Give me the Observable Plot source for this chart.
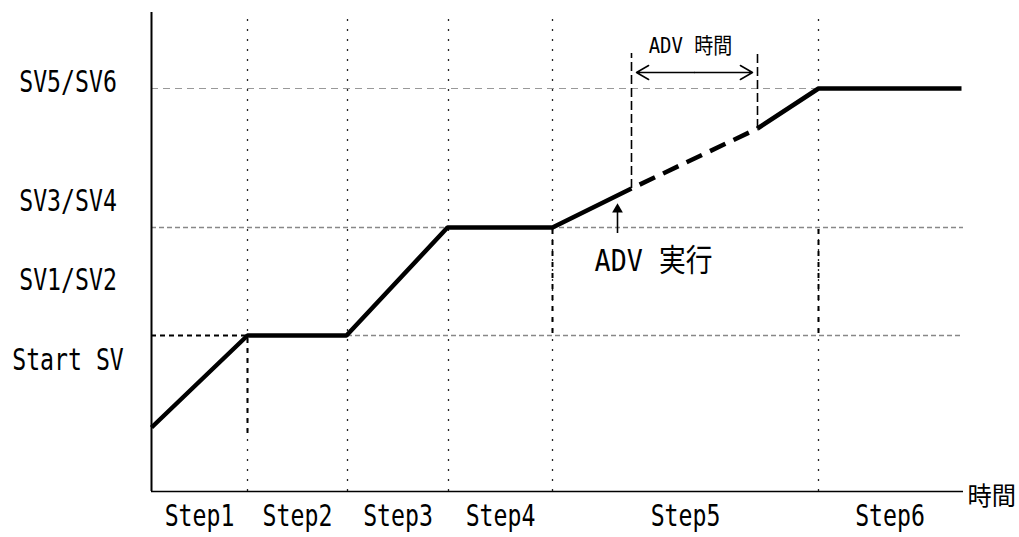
<!DOCTYPE html>
<html>
<head>
<meta charset="utf-8">
<script src="https://cdn.jsdelivr.net/npm/d3@7"></script>
<script src="https://cdn.jsdelivr.net/npm/@observablehq/plot@0.6"></script>
<style>
  html, body { margin: 0; padding: 0; background: #fff; }
  #chart svg { display: block; }
</style>
</head>
<body>
<div id="chart"></div>
<script>
// ---- data (time units on x, value units on y) ----
const profileTime  = [0, 96, 195, 296, 401, 480, 606, 667, 810];
const profileValue = [64, 156, 156, 264, 264, 303, 363, 403, 403];
const advStartIndex = 5;   // ADV executed here
const advEndIndex = 6;     // ADV time ends here

const stepNames  = ["Step1", "Step2", "Step3", "Step4", "Step5", "Step6"];
const stepBounds = [0, 96, 196, 297, 401, 667, 810];

const yTickLabels   = ["SV5/SV6", "SV3/SV4", "SV1/SV2", "Start SV"];
const yTickLabelPos = [409, 290, 211, 131];

const levelSV5 = 403;
const levelSV3 = 264;
const levelSV1 = 156;

const xAxisEnd = 812;
const yAxisTop = 479;
const gridTop = 474;
const advLabelTop = 438;
const advArrowLevel = 419;
const advTimeLabel = "ADV 時間";
const advTimeLabelPos = [539, 446];
const advExecLabel = "ADV 実行";
const advExecLabelPos = [502, 230];
const advExecArrow = [466, 258, 282];
const xAxisTitle = "時間";

// ---- derived tables ----
const pts = profileTime.map((t, i) => ({t, v: profileValue[i]}));
const solid1 = pts.slice(0, advStartIndex + 1);
const dashedPart = pts.slice(advStartIndex, advEndIndex + 1);
const solid2 = pts.slice(advEndIndex);
const steps = stepNames.map((name, i) => ({name, t: (stepBounds[i] + stepBounds[i + 1]) / 2}));
const innerBounds = stepBounds.slice(1, 6);
const yLabels = yTickLabels.map((label, i) => ({label, v: yTickLabelPos[i]}));
const aS = pts[advStartIndex], aE = pts[advEndIndex];
const mid = (aS.t + aE.t) / 2;

const font = "'DejaVu Sans Mono', 'Noto Sans CJK JP', monospace";

const svg = Plot.plot({
  width: 1019,
  height: 537,
  marginLeft: 151,
  marginRight: 0,
  marginTop: 0,
  marginBottom: 46,
  x: {domain: [0, 868], axis: null},
  y: {domain: [0, 491], axis: null},
  style: {background: "#fff", fontFamily: font},
  marks: [
    // vertical dotted step boundaries
    Plot.ruleX(innerBounds, {x: d => d, y1: 0, y2: gridTop, stroke: "#222", strokeWidth: 1.3, strokeDasharray: "2,8"}),
    // horizontal gray dashed levels
    Plot.ruleY([levelSV5], {y: d => d, x1: 0, x2: xAxisEnd - 3, stroke: "#999", strokeWidth: 1.2, strokeDasharray: "7,5"}),
    Plot.ruleY([levelSV3], {y: d => d, x1: 0, x2: xAxisEnd, stroke: "#888", strokeWidth: 1.3, strokeDasharray: "5,3"}),
    Plot.ruleY([levelSV1], {y: d => d, x1: stepBounds[2], x2: xAxisEnd, stroke: "#888", strokeWidth: 1.3, strokeDasharray: "5,3"}),
    // black dashed helper lines
    Plot.ruleY([levelSV1], {y: d => d, x1: 0, x2: stepBounds[1], stroke: "#000", strokeWidth: 2, strokeDasharray: "5,4"}),
    Plot.ruleX([stepBounds[1]], {x: d => d, y1: 58, y2: levelSV1, stroke: "#000", strokeWidth: 2, strokeDasharray: "5,5"}),
    Plot.ruleX([stepBounds[4], stepBounds[5]], {x: d => d, y1: levelSV1 + 2, y2: levelSV3, stroke: "#000", strokeWidth: 2, strokeDasharray: "5,6"}),
    // ADV vertical dashed markers
    Plot.ruleX([aS], {x: "t", y1: "v", y2: advLabelTop, stroke: "#000", strokeWidth: 1.6, strokeDasharray: "9,4"}),
    Plot.ruleX([aE], {x: "t", y1: "v", y2: advLabelTop, stroke: "#000", strokeWidth: 1.6, strokeDasharray: "9,4"}),
    // double arrow for ADV time
    Plot.arrow([aS, aE], {x1: () => mid, x2: "t", y1: () => advArrowLevel, y2: () => advArrowLevel,
      insetEnd: 5, headLength: 14, headAngle: 60, stroke: "#000", strokeWidth: 1.5}),
    // axes
    Plot.ruleY([0], {x1: 0, x2: xAxisEnd, stroke: "#000", strokeWidth: 1.5}),
    Plot.ruleX([0], {y1: 0, y2: yAxisTop, stroke: "#000", strokeWidth: 2}),
    // profile
    Plot.line(solid1, {x: "t", y: "v", stroke: "#000", strokeWidth: 4.5, strokeLinejoin: "miter", strokeLinecap: "butt"}),
    Plot.line(dashedPart, {x: "t", y: "v", stroke: "#000", strokeWidth: 4.5, strokeDasharray: "17,9", strokeDashoffset: -9, strokeLinecap: "butt"}),
    Plot.line(solid2, {x: "t", y: "v", stroke: "#000", strokeWidth: 4.5, strokeLinejoin: "miter", strokeLinecap: "butt"}),
    // ADV execution arrow
    Plot.ruleX([advExecArrow], {x: d => d[0], y1: d => d[1], y2: d => d[2], stroke: "#000", strokeWidth: 1.6}),
    Plot.dot([advExecArrow], {x: d => d[0], y: d => d[2], symbol: "triangle", r: 4, fill: "#000", stroke: "none"}),
    // texts
    Plot.text(yLabels, {x: () => -83.5, y: "v", text: "label", fontSize: 30, fill: "#000", textAnchor: "middle"}),
    Plot.text(steps, {x: "t", y: () => 0, dy: 25, text: "name", fontSize: 30, fill: "#000", textAnchor: "middle"}),
    Plot.text([xAxisTitle], {x: () => xAxisEnd, y: () => 0, dx: 4, dy: 5, text: d => d, fontSize: 25, fill: "#000", textAnchor: "start"}),
    Plot.text([advTimeLabel], {x: () => advTimeLabelPos[0], y: () => advTimeLabelPos[1], text: d => d, fontSize: 22, fill: "#000", textAnchor: "middle"}),
    Plot.text([advExecLabel], {x: () => advExecLabelPos[0], y: () => advExecLabelPos[1], text: d => d, fontSize: 31, fill: "#000", textAnchor: "middle"})
  ]
});

document.getElementById("chart").append(svg);

// emulate a condensed half-width Latin / full-width CJK font by condensing text
svg.querySelectorAll("text").forEach(t => {
  const s = t.textContent;
  let em = 0;
  for (const ch of s) em += ch.codePointAt(0) > 0x2e80 ? 0.97 : 0.465;
  const fs = parseFloat(getComputedStyle(t).fontSize);
  const target = em * fs;
  const natural = t.getComputedTextLength();
  if (natural > target) {
    t.setAttribute("textLength", target);
    t.setAttribute("lengthAdjust", "spacingAndGlyphs");
  }
});
</script>
</body>
</html>
